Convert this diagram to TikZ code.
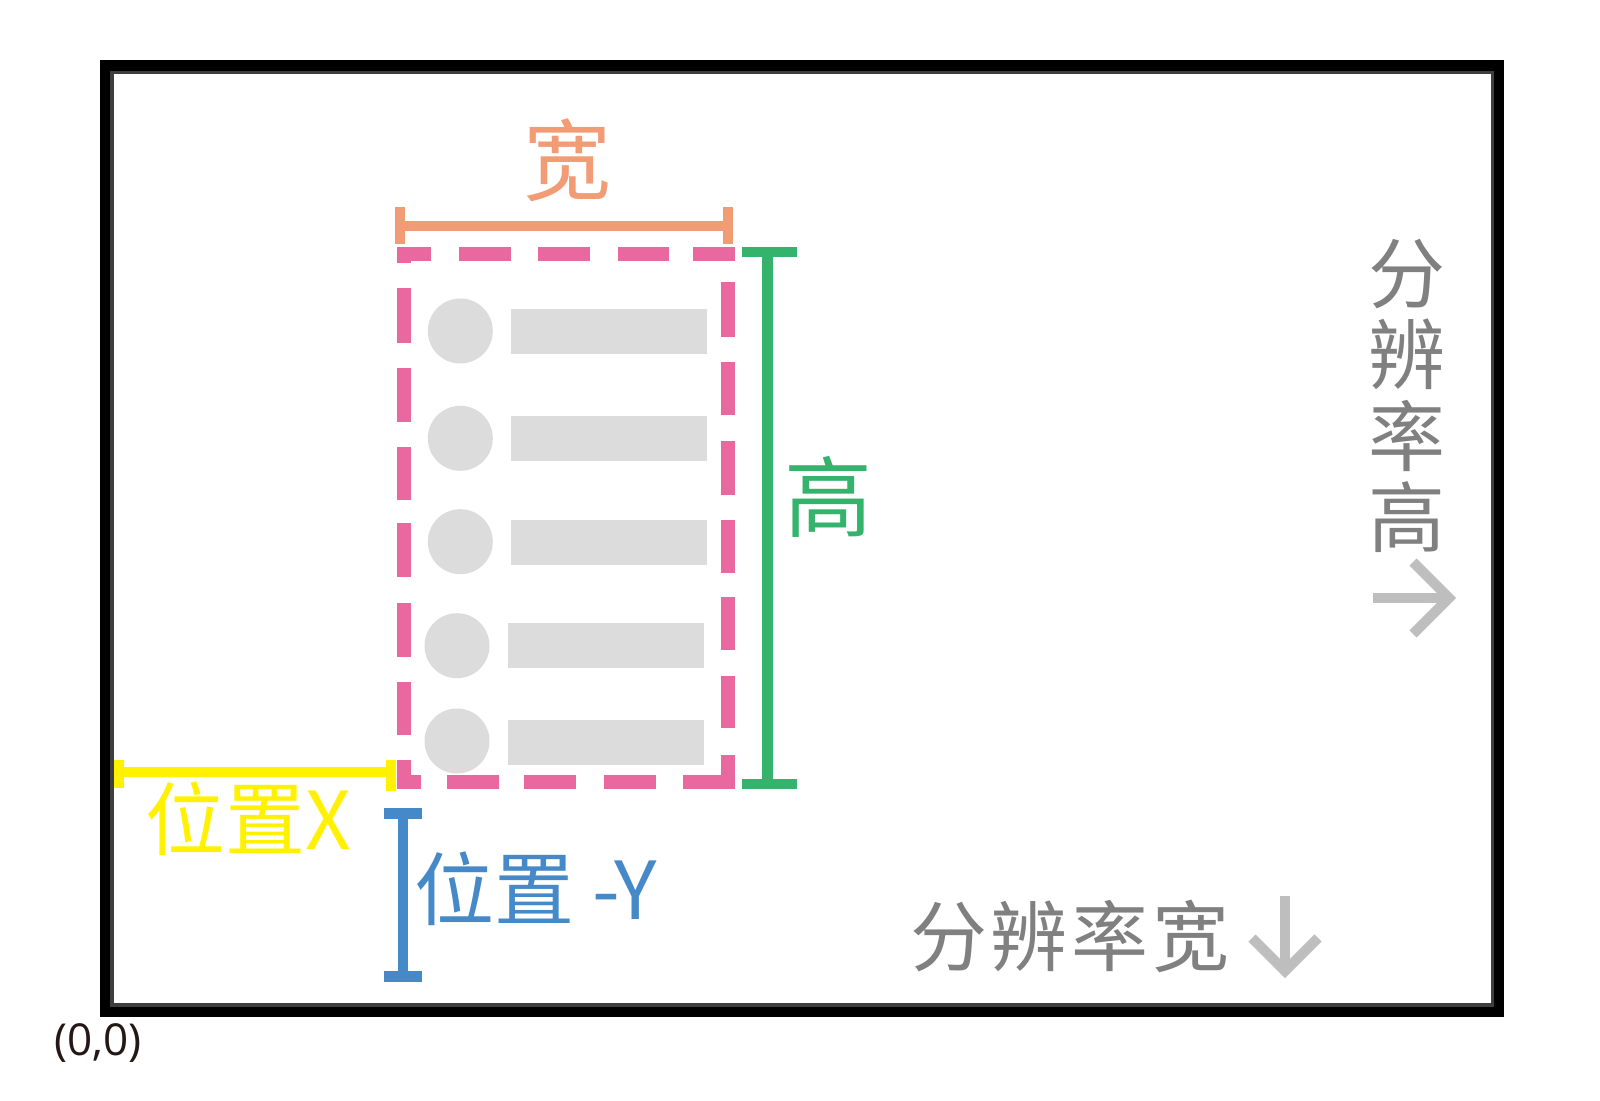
\documentclass[tikz,border=0pt]{standalone}
\usepackage{fontspec}
\setmainfont{Open Sans}
\newfontfamily\cjk{Noto Sans CJK SC}
\definecolor{framegray}{RGB}{62,62,62}
\definecolor{boxpink}{RGB}{233,104,160}
\definecolor{dimorange}{RGB}{242,156,118}
\definecolor{dimgreen}{RGB}{51,179,107}
\definecolor{dimyellow}{RGB}{255,241,0}
\definecolor{dimblue}{RGB}{70,137,200}
\definecolor{resgray}{RGB}{128,128,128}
\definecolor{arrowgray}{RGB}{190,190,190}
\definecolor{itemgray}{RGB}{220,220,220}
\definecolor{origink}{RGB}{35,24,21}
\begin{document}
\begin{tikzpicture}[x=1pt,y=-1pt,
  pinkseg/.style={draw=boxpink, line width=14, line cap=butt},
  dimline/.style={line width=#1, line cap=butt},
  itemdot/.style={circle, fill=itemgray, minimum size=65, inner sep=0},
  itembar/.style={rectangle, fill=itemgray, minimum width=196, minimum height=45, inner sep=0},
  lbl/.style={inner sep=0, outer sep=0},
  reslbl/.style={lbl, text=resgray, font=\cjk\fontsize{77}{81.5}\selectfont},
  resarrow/.style={draw=arrowgray, line width=10, line cap=butt, line join=miter}]
\useasboundingbox (0,0) rectangle (1600,1100);
\fill[white] (0,0) rectangle (1600,1100);

% screen frame
\coordinate (fNW) at (105.25,65.25);
\coordinate (fSE) at (1498.75,1011.75);
\draw[line width=10.5, black] (fNW) rectangle (fSE);
\coordinate (gNW) at (112,72.5);
\coordinate (gSE) at (1492.5,1005);
\draw[line width=3.5, framegray] (gNW) rectangle (gSE);

% list items
\node[itemdot] (c1) at (460.3,331) {};
\node[itemdot] (c2) at (460.3,438.3) {};
\node[itemdot] (c3) at (460.3,541.7) {};
\node[itemdot] (c4) at (457,645.7) {};
\node[itemdot] (c5) at (457,741) {};
\node[itembar] (b1) at (609,331.5) {};
\node[itembar] (b2) at (609,438.5) {};
\node[itembar] (b3) at (609,542.5) {};
\node[itembar] (b4) at (605.5,645.5) {};
\node[itembar] (b5) at (605.5,742.5) {};

% dashed window box
\foreach \a/\b in {397/431,459/511,538/590,618/669,693/735}
  \draw[pinkseg] (\a,254) -- (\b,254);
\foreach \a/\b in {397/421,447/499,524/576,604/656,683/735}
  \draw[pinkseg] (\a,782) -- (\b,782);
\foreach \a/\b in {247/263,288/343,368/422,447/500,523/577,603/657,682/735,760/789}
  \draw[pinkseg] (403.5,\a) -- (403.5,\b);
\foreach \a/\b in {282/337,362/415,441/495,520/573,597/650,676/728,755/789}
  \draw[pinkseg] (728,\a) -- (728,\b);

% width dimension
\coordinate (wL) at (400,226);
\coordinate (wR) at (728,226);
\coordinate (wLt) at (400,207); \coordinate (wLb) at (400,244);
\coordinate (wRt) at (728,207); \coordinate (wRb) at (728,244);
\draw[dimline=10, dimorange] (wL) -- (wR);
\draw[dimline=10, dimorange] (wLt) -- (wLb);
\draw[dimline=10, dimorange] (wRt) -- (wRb);
\node[lbl, text=dimorange, font=\cjk\fontsize{88}{100}\selectfont] (wlabel) at (567.5,160) {宽};

% height dimension
\coordinate (hT) at (767.5,252);
\coordinate (hB) at (767.5,784);
\coordinate (hTl) at (742,252); \coordinate (hTr) at (797,252);
\coordinate (hBl) at (742,784); \coordinate (hBr) at (797,784);
\draw[dimline=11, dimgreen] (hT) -- (hB);
\draw[dimline=10, dimgreen] (hTl) -- (hTr);
\draw[dimline=10, dimgreen] (hBl) -- (hBr);
\node[lbl, text=dimgreen, font=\cjk\fontsize{88}{100}\selectfont] (hlabel) at (828,497) {高};

% position X
\coordinate (xL) at (119,772);
\coordinate (xR) at (391,772);
\coordinate (xLt) at (119,760); \coordinate (xLb) at (119,788);
\coordinate (xRt) at (391,760); \coordinate (xRb) at (391,791);
\draw[dimline=9.5, dimyellow] (xL) -- (xR);
\draw[dimline=10, dimyellow] (xLt) -- (xLb);
\draw[dimline=10.5, dimyellow] (xRt) -- (xRb);
\node[lbl, text=dimyellow, font=\cjk\fontsize{80}{90}\selectfont] (xlabel) at (248.5,818.5) {位置X};

% position Y
\coordinate (yT) at (403,813);
\coordinate (yB) at (403,976);
\coordinate (yTl) at (384,813); \coordinate (yTr) at (422,813);
\coordinate (yBl) at (384,976); \coordinate (yBr) at (422,976);
\draw[dimline=10.5, dimblue] (yT) -- (yB);
\draw[dimline=11, dimblue] (yTl) -- (yTr);
\draw[dimline=11, dimblue] (yBl) -- (yBr);
\node[lbl, text=dimblue, font=\cjk\fontsize{80}{90}\selectfont] (ylabel) at (535.5,889) {位置 -Y};

% resolution labels
\node[reslbl, align=center] (rhlabel) at (1407,395.75) {分\\辨\\率\\高};
\coordinate (raS) at (1373,598);
\coordinate (raT) at (1449,598);
\coordinate (raU) at (1413,562);
\coordinate (raD) at (1413,634);
\draw[resarrow] (raS) -- (raT);
\draw[resarrow] (raU) -- (raT) -- (raD);

\node[reslbl] (rwlabel) at (1070,936) {分\hspace{4pt}辨\hspace{4pt}率\hspace{4pt}宽};
\coordinate (daS) at (1285,896);
\coordinate (daT) at (1285,971);
\coordinate (daL) at (1252,938);
\coordinate (daR) at (1318,938);
\draw[resarrow] (daS) -- (daT);
\draw[resarrow] (daL) -- (daT) -- (daR);

% origin label
\node[lbl, text=origink, font=\fontsize{44}{50}\selectfont] (origin) at (98,1043) {(0,0)};
\end{tikzpicture}
\end{document}
